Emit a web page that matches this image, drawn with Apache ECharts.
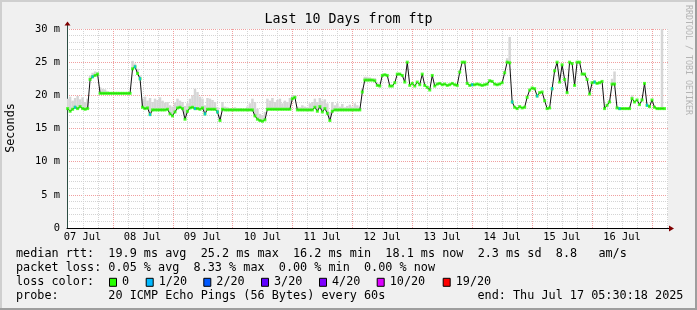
<!DOCTYPE html>
<html><head><meta charset="utf-8">
<script src="https://cdn.jsdelivr.net/npm/echarts@6/dist/echarts.min.js"></script>
<style>html,body{margin:0;padding:0;background:#f0f0f0}#c{width:697px;height:310px}</style>
</head><body><div id="c"></div>
<script>
// ---------------- data ----------------
// hours counted from 07 Jul 00:00, one sample per hour
const startHour = 6;
const medianRtt = [
  // 07 Jul 06h-23h
  18.0, 17.6, 17.9, 18.2, 18.0, 18.3, 18.0, 17.9, 18.0, 22.4, 22.8, 23.0, 23.2, 20.3, 20.3, 20.3, 20.3, 20.3,
  // 08 Jul
  20.3, 20.3, 20.3, 20.3, 20.3, 20.3, 20.3, 20.3, 24.0, 24.3, 23.3, 22.5, 18.2, 18.0, 18.1, 17.1, 17.8, 17.8, 17.8, 17.8, 17.8, 17.8, 17.9, 17.2,
  // 09 Jul
  16.9, 17.5, 18.1, 18.2, 18.0, 16.4, 17.6, 18.1, 18.2, 18.0, 18.0, 17.9, 18.1, 17.2, 17.9, 17.9, 17.9, 17.9, 17.5, 16.2, 17.9, 17.8, 17.8, 17.8,
  // 10 Jul
  17.8, 17.8, 17.8, 17.8, 17.8, 17.8, 17.8, 17.8, 17.8, 16.9, 16.4, 16.2, 16.1, 16.3, 17.9, 17.9, 17.9, 17.9, 17.9, 17.9, 17.9, 17.9, 17.9, 17.9,
  // 11 Jul
  19.5, 19.7, 17.8, 17.8, 17.8, 17.8, 17.8, 17.8, 17.8, 18.2, 17.6, 18.3, 17.5, 18.0, 17.3, 16.2, 17.6, 17.8, 17.8, 17.8, 17.8, 17.8, 17.8, 17.8,
  // 12 Jul
  17.8, 17.8, 17.8, 17.8, 20.5, 22.3, 22.3, 22.3, 22.3, 22.2, 21.5, 21.4, 23.0, 23.1, 23.0, 21.4, 21.4, 21.9, 23.2, 23.2, 23.0, 22.0, 25.0, 21.5,
  // 13 Jul
  21.8, 21.4, 22.0, 21.6, 23.2, 21.5, 21.2, 20.8, 23.0, 21.4, 21.7, 21.8, 21.6, 21.7, 21.5, 21.6, 21.8, 21.6, 21.5, 23.5, 25.0, 25.0, 21.8, 21.5,
  // 14 Jul
  21.6, 21.6, 21.7, 21.6, 21.5, 21.6, 21.7, 22.2, 22.1, 21.7, 21.6, 21.7, 21.9, 23.4, 25.0, 24.9, 19.0, 18.2, 18.0, 18.3, 18.1, 18.2, 19.7, 20.8,
  // 15 Jul
  21.1, 21.0, 19.9, 20.4, 20.5, 19.2, 18.0, 18.1, 21.0, 23.7, 25.0, 22.0, 24.6, 22.4, 20.4, 25.0, 24.8, 21.5, 25.0, 25.0, 23.2, 23.2, 22.4, 20.2,
  // 16 Jul
  21.9, 22.0, 21.8, 21.9, 22.1, 18.0, 18.5, 19.0, 21.7, 21.7, 18.1, 18.0, 18.0, 18.0, 18.0, 18.0, 19.5, 19.0, 19.3, 18.6, 19.3, 21.8, 18.5, 18.3,
  // 17 Jul
  19.3, 18.2, 18.0, 18.0, 18.0, 18.0
];
// top of the ping "smoke", hourly from startHour (07 Jul 06h .. 12 Jul 11h)
const smokeTop = [
  19.5, 19.8, 19.2, 19.6, 19.9, 19.4, 19.7, 19.0, 19.5, 23.0, 23.4, 23.6, 23.5, 21.2, 21.0, 20.9, 20.6, 20.5,
  20.4, 20.4, 20.4, 20.4, 20.4, 20.4, 20.4, 20.4, 25.2, 24.8, 24.0, 23.0, 19.5, 19.8, 19.2, 19.6, 19.0, 19.5, 19.3, 19.7, 19.2, 18.9, 19.0, 18.5,
  18.3, 18.9, 19.5, 19.2, 19.0, 18.4, 18.8, 19.5, 20.0, 21.0, 20.5, 19.8, 19.5, 18.5, 19.6, 19.5, 19.3, 19.0, 18.2, 17.0, 19.0, 18.3, 18.2, 18.1,
  18.0, 18.2, 18.0, 18.1, 18.0, 18.0, 18.3, 18.8, 19.5, 19.0, 18.0, 17.2, 17.0, 17.5, 19.5, 19.2, 19.6, 19.0, 19.3, 19.5, 18.8, 19.2, 19.0, 19.6,
  20.0, 20.0, 18.3, 18.2, 18.5, 18.3, 18.2, 18.8, 19.0, 19.5, 19.0, 19.6, 19.2, 19.4, 18.8, 17.5, 19.0, 18.5, 18.8, 18.3, 18.7, 18.2, 18.4, 18.6,
  18.3, 18.8, 18.5, 18.2, 21.0, 22.8, 22.8, 22.7, 22.5, 22.6, 21.8, 21.6
];
// isolated smoke spikes later on: [hour, top]
const smokeSpikes = [[182, 25.6], [183, 28.8], [224, 22.5], [225, 23.6], [232, 20.0], [244, 31.0]];
// hours where the median had 1/20 loss
const loss1Hours = [9, 16, 33, 35, 39, 57, 61, 66, 168, 184, 194, 200, 217, 227, 238];

const dayLabels = ['07 Jul', '08 Jul', '09 Jul', '10 Jul', '11 Jul', '12 Jul', '13 Jul', '14 Jul', '15 Jul', '16 Jul'];
const dayLabelHours = [12, 36, 60, 84, 108, 132, 156, 180, 204, 228];
const majorGridHours = [24, 48, 72, 96, 120, 144, 168, 192, 216, 240];
const minorGridHours = [12, 18, 30, 36, 42, 54, 60, 66, 78, 84, 90, 102, 108, 114, 126, 132, 138, 150, 156, 162, 174, 180, 186, 198, 204, 210, 222, 228, 234, 246];

const lossColors = ['#26ff00', '#00b8ff', '#0059ff', '#5e00ff', '#7e00ff', '#dd00ff', '#ff0000'];
const lossLabels = ['0', '1/20', '2/20', '3/20', '4/20', '10/20', '19/20'];

const titleText = 'Last 10 Days from ftp';
const legendRows = [
  'median rtt:  19.9 ms avg  25.2 ms max  16.2 ms min  18.1 ms now  2.3 ms sd  8.8   am/s',
  'packet loss: 0.05 % avg  8.33 % max  0.00 % min  0.00 % now',
  'loss color:',
  'probe:       20 ICMP Echo Pings (56 Bytes) every 60s'
];
const endText = 'end: Thu Jul 17 05:30:18 2025';

// ---------------- layout ----------------
const G = {left: 67, top: 29, width: 601, height: 199};
const FONT = '"DejaVu Sans Mono", monospace';
const lossBoxX = [109, 145.7, 203.3, 261, 319, 376.7, 442.7];
const rowY = [254.3, 268.3, 282.3, 296];

const hours = medianRtt.map((_, i) => startHour + i);
const medianPts = hours.map((h, i) => [h, medianRtt[i]]);
const smokeData = smokeTop.map((t, i) => [startHour + i, medianRtt[i], t]).concat(
  smokeSpikes.map(s => [s[0], medianRtt[s[0] - startHour], s[1]]));
const bluePts = loss1Hours.map(h => [h, medianRtt[h - startHour]]);
const labelMap = {};
dayLabelHours.forEach((h, i) => labelMap[h] = dayLabels[i]);

function vGrid(hoursArr, color, z) {
  return {
    type: 'custom', z: z, silent: true, animation: false,
    data: hoursArr.map(h => [h, 0]),
    encode: {x: 0, y: 1},
    renderItem: (params, api) => {
      const p0 = api.coord([api.value(0), 0]);
      const p1 = api.coord([api.value(0), 30]);
      const x = Math.round(p0[0]) + 0.5;
      return {type: 'line', shape: {x1: x, y1: p0[1], x2: x, y2: p1[1]},
        style: {stroke: color, lineWidth: 1, lineDash: [1, 1]}};
    }
  };
}

const axisY = G.top + G.height + 0.5;
const graphics = [
  {type: 'rect', shape: {x: 0, y: 0, width: 697, height: 2}, style: {fill: '#cfcfcf'}},
  {type: 'rect', shape: {x: 0, y: 0, width: 2, height: 310}, style: {fill: '#cfcfcf'}},
  {type: 'rect', shape: {x: 0, y: 308, width: 697, height: 2}, style: {fill: '#9e9e9e'}},
  {type: 'rect', shape: {x: 695, y: 0, width: 2, height: 310}, style: {fill: '#9e9e9e'}},
  {type: 'text', x: 348.5, y: 19.5, style: {text: titleText, font: '13.3px ' + FONT, fill: '#000', textAlign: 'center', textVerticalAlign: 'middle'}},
  {type: 'text', x: 11, y: 128, rotation: Math.PI / 2, style: {text: 'Seconds', font: '11.8px ' + FONT, fill: '#000', textAlign: 'center', textVerticalAlign: 'middle'}},
  {type: 'text', x: 688, y: 60, rotation: -Math.PI / 2, style: {text: 'RRDTOOL / TOBI OETIKER', font: '8.3px ' + FONT, fill: '#b4b4b4', textAlign: 'center', textVerticalAlign: 'middle'}},
  // axis extensions + arrows
  {type: 'line', shape: {x1: G.left + 0.5, y1: G.top - 4, x2: G.left + 0.5, y2: G.top}, style: {stroke: '#2c4d43', lineWidth: 1}},
  {type: 'line', shape: {x1: G.left + G.width, y1: axisY, x2: G.left + G.width + 2, y2: axisY}, style: {stroke: '#000', lineWidth: 1}},
  {type: 'polygon', shape: {points: [[G.left - 2.5, G.top - 3.5], [G.left + 3.5, G.top - 3.5], [G.left + 0.5, G.top - 7.5]]}, style: {fill: '#7f0000'}},
  {type: 'polygon', shape: {points: [[G.left + G.width + 1, axisY - 3], [G.left + G.width + 1, axisY + 3], [G.left + G.width + 6, axisY]]}, style: {fill: '#7f0000'}}
];
legendRows.forEach((t, i) => graphics.push({type: 'text', x: 16, y: rowY[i],
  style: {text: t, font: '11.8px ' + FONT, fill: '#000', textAlign: 'left', textVerticalAlign: 'middle'}}));
graphics.push({type: 'text', x: 477.5, y: rowY[3], style: {text: endText, font: '11.8px ' + FONT, fill: '#000', textAlign: 'left', textVerticalAlign: 'middle'}});
lossLabels.forEach((lab, i) => {
  graphics.push({type: 'rect', shape: {x: lossBoxX[i] + 0.5, y: rowY[2] - 4, width: 7, height: 8},
    style: {fill: lossColors[i], stroke: '#000', lineWidth: 1}});
  graphics.push({type: 'text', x: lossBoxX[i] + 13, y: rowY[2],
    style: {text: lab, font: '11.8px ' + FONT, fill: '#000', textAlign: 'left', textVerticalAlign: 'middle'}});
});

const chart = echarts.init(document.getElementById('c'), null, {renderer: 'canvas'});
chart.setOption({
  backgroundColor: '#f0f0f0',
  animation: false,
  grid: Object.assign({show: true, backgroundColor: '#ffffff', borderWidth: 0}, G),
  xAxis: {
    type: 'value', min: 5.75, max: 246.4,
    axisLine: {show: true, onZero: false, lineStyle: {color: '#000', width: 1}},
    axisTick: {show: false},
    splitLine: {show: false},
    axisLabel: {
      customValues: dayLabelHours,
      formatter: v => labelMap[v] || '',
      fontFamily: FONT, fontSize: 10.4, color: '#000', margin: 4
    }
  },
  yAxis: {
    type: 'value', min: 0, max: 30, interval: 5,
    axisLine: {show: true, lineStyle: {color: '#2c4d43', width: 1}},
    axisTick: {show: false},
    axisLabel: {formatter: v => v === 0 ? '0' : v + ' m', fontFamily: FONT, fontSize: 10.4, color: '#000', margin: 7},
    splitLine: {show: true, lineStyle: {color: '#f0a0a0', type: [1, 1], width: 1}},
    minorTick: {show: false, splitNumber: 5},
    minorSplitLine: {show: true, lineStyle: {color: '#d4d4d4', type: [1, 1], width: 1}}
  },
  graphic: graphics,
  series: [
    vGrid(minorGridHours, '#d4d4d4', 0),
    vGrid(majorGridHours, '#f0a0a0', 0),
    {
      type: 'custom', z: 1, silent: true, clip: true,
      data: smokeData, encode: {x: 0, y: [1, 2]},
      renderItem: (params, api) => {
        const top = api.coord([api.value(0), Math.min(api.value(2), 30)]);
        const bot = api.coord([api.value(0), api.value(1)]);
        const w = api.size([1, 0])[0];
        return {type: 'rect', shape: {x: top[0] - w / 2, y: top[1], width: w, height: Math.max(bot[1] - top[1], 0)},
          style: {fill: '#d6d6d6'}};
      }
    },
    {type: 'line', z: 3, data: medianPts, symbol: 'none', silent: true,
      lineStyle: {color: '#111', width: 1}},
    {type: 'scatter', z: 4, data: medianPts, symbol: 'rect', symbolSize: [3, 3], silent: true,
      itemStyle: {color: lossColors[0]}},
    {type: 'scatter', z: 5, data: bluePts, symbol: 'rect', symbolSize: [2, 3], silent: true,
      itemStyle: {color: lossColors[1]}}
  ]
});
</script>
</body></html>
